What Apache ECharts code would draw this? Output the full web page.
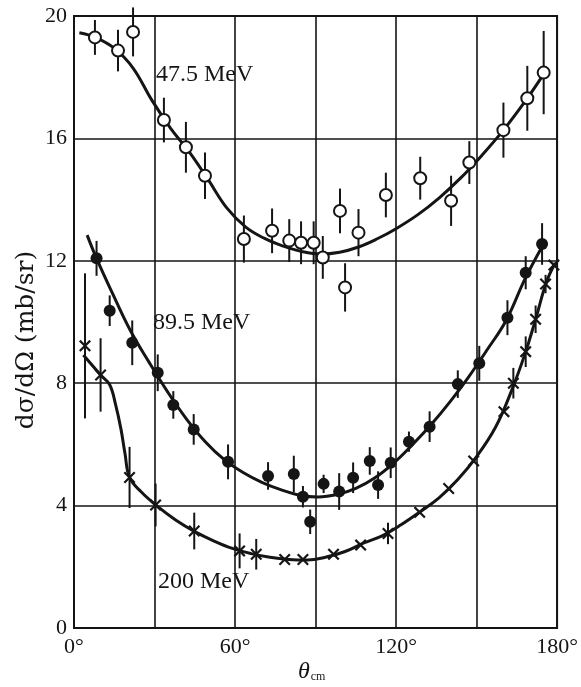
<!DOCTYPE html>
<html>
<head>
<meta charset="utf-8">
<script src="https://cdn.jsdelivr.net/npm/echarts@6/dist/echarts.min.js"></script>
<style>html,body{margin:0;padding:0;background:#fff;}#c{width:581px;height:687px;}</style>
</head>
<body>
<div id="c"></div>
<script>
// ---- data: 47.5 MeV (open circles)
const ang47 = [7.8, 16.4, 22, 33.5, 41.7, 48.8, 63.3, 73.8, 80.2, 84.6, 89.3, 92.7, 99.1, 101, 106, 116.2, 129, 140.5, 147.3, 160, 168.9, 175];
const val47 = [19.3, 18.87, 19.48, 16.6, 15.71, 14.78, 12.71, 12.98, 12.66, 12.59, 12.59, 12.11, 13.63, 11.13, 12.92, 14.15, 14.7, 13.96, 15.21, 16.27, 17.31, 18.15];
const err47 = [0.57, 0.68, 0.8, 0.73, 0.83, 0.76, 0.77, 0.73, 0.7, 0.7, 0.7, 0.7, 0.73, 0.79, 0.77, 0.73, 0.7, 0.82, 0.7, 0.9, 1.06, 1.36];
// ---- data: 89.5 MeV (filled circles)
const ang89 = [8.4, 13.3, 21.7, 31.2, 37, 44.6, 57.4, 72.3, 81.9, 85.3, 88, 93, 98.8, 104, 110.2, 113.3, 118, 124.8, 132.5, 143, 151, 161.5, 168.3, 174.4];
const val89 = [12.08, 10.37, 9.32, 8.34, 7.29, 6.49, 5.43, 4.97, 5.03, 4.29, 3.47, 4.71, 4.46, 4.91, 5.46, 4.67, 5.4, 6.09, 6.58, 7.97, 8.65, 10.14, 11.61, 12.55];
const err89 = [0.57, 0.5, 0.73, 0.6, 0.45, 0.5, 0.57, 0.45, 0.6, 0.35, 0.4, 0.3, 0.6, 0.5, 0.45, 0.45, 0.5, 0.33, 0.5, 0.45, 0.57, 0.57, 0.54, 0.68];
// ---- data: 200 MeV (crosses)
const ang200 = [4.1, 9.9, 20.7, 30.4, 44.8, 61.7, 67.9, 78.5, 85.3, 96.7, 106.8, 117, 128.8, 139.6, 148.9, 160.2, 163.7, 168.3, 172, 175.7, 178.8];
const val200 = [9.22, 8.27, 4.92, 4.02, 3.17, 2.52, 2.41, 2.24, 2.24, 2.41, 2.71, 3.09, 3.78, 4.56, 5.46, 7.07, 8.0, 9.03, 10.09, 11.24, 11.86];
const err200 = [2.37, 1.2, 1.0, 0.7, 0.6, 0.57, 0.5, 0, 0, 0, 0, 0.35, 0, 0, 0, 0, 0.5, 0.5, 0.45, 0.3, 0];
// ---- fitted curves
const fitAng47 = [2, 8, 15, 22, 29, 36, 43, 50, 57, 64, 71, 78, 85, 92, 99, 106, 113, 120, 128, 136, 144, 152, 160, 168, 175];
const fitVal47 = [19.45, 19.3, 18.95, 18.3, 17.25, 16.33, 15.55, 14.65, 13.72, 13.1, 12.73, 12.48, 12.3, 12.22, 12.28, 12.45, 12.72, 13.05, 13.5, 14.05, 14.7, 15.45, 16.27, 17.2, 18.1];
const fitAng89 = [4.9, 8.4, 14, 21, 28, 35, 42, 49, 56, 63, 70, 77, 84, 91, 98, 105, 112, 119, 126, 133, 140, 147, 154, 161, 168, 174.4];
const fitVal89 = [12.84, 12.08, 11.0, 9.72, 8.68, 7.7, 6.82, 6.08, 5.5, 5.08, 4.76, 4.52, 4.34, 4.28, 4.36, 4.56, 4.9, 5.38, 5.98, 6.64, 7.38, 8.2, 9.1, 10.05, 11.4, 12.46];
const fitAng200 = [3.5, 9.9, 13.3, 15.5, 17.5, 19, 20.7, 25, 31, 38, 45, 52, 59, 66, 73, 80, 87, 94, 101, 108, 115, 122, 129, 136, 143, 150, 157, 163, 168, 172, 176, 179.3];
const fitVal200 = [8.92, 8.27, 7.95, 7.3, 6.5, 5.7, 4.92, 4.45, 3.98, 3.52, 3.15, 2.85, 2.6, 2.43, 2.31, 2.24, 2.22, 2.32, 2.5, 2.78, 3.02, 3.38, 3.8, 4.25, 4.85, 5.6, 6.55, 7.75, 8.95, 10.09, 11.3, 11.93];
// ---- axes
const xTicks = [0, 60, 120, 180];
const yTicks = [0, 4, 8, 12, 16, 20];
const seriesLabels = ['47.5 MeV', '89.5 MeV', '200 MeV'];
const yTitle = 'dσ/dΩ (mb/sr)';

const zip = (a, b) => a.map((v, i) => [v, b[i]]);
const errData = (a, v, e) => a.map((x, i) => [x, v[i] - e[i], v[i] + e[i]]);
const SERIF = '"Liberation Serif", "DejaVu Serif", serif';
const INK = '#151515';
const crossPath = 'path://M0,1.3L1.3,0L10,8.7L8.7,10Z M8.7,0L10,1.3L1.3,10L0,8.7Z';

function fitSeries(a, v) {
  return { type: 'line', data: zip(a, v), smooth: 0.4, showSymbol: false, symbol: 'none',
    lineStyle: { color: INK, width: 3 }, z: 2, silent: true };
}
function errSeries(a, v, e) {
  return { type: 'custom', data: errData(a, v, e), clip: false, z: 3, silent: true,
    renderItem: function (params, api) {
      const p1 = api.coord([api.value(0), api.value(1)]);
      const p2 = api.coord([api.value(0), api.value(2)]);
      return { type: 'line', shape: { x1: p1[0], y1: p1[1], x2: p2[0], y2: p2[1] },
        style: { stroke: INK, lineWidth: 2 } };
    } };
}

const chart = echarts.init(document.getElementById('c'), null, { renderer: 'canvas' });
chart.setOption({
  animation: false,
  backgroundColor: '#fff',
  grid: { left: 74, right: 21, top: 16, bottom: 59, show: true, borderColor: INK, borderWidth: 2, backgroundColor: 'transparent' },
  xAxis: {
    type: 'value', min: 0, max: 180, interval: 30,
    axisLine: { show: false }, axisTick: { show: false },
    splitLine: { show: true, lineStyle: { color: INK, width: 1.6 } },
    axisLabel: { color: INK, fontFamily: SERIF, fontSize: 22, margin: 8,
      formatter: v => xTicks.indexOf(v) >= 0 ? v + '°' : '' }
  },
  yAxis: {
    type: 'value', min: 0, max: 20, interval: 4,
    axisLine: { show: false }, axisTick: { show: false },
    splitLine: { show: true, lineStyle: { color: INK, width: 1.6 } },
    axisLabel: { color: INK, fontFamily: SERIF, fontSize: 22, margin: 7,
      formatter: v => yTicks.indexOf(v) >= 0 ? String(v) : '' }
  },
  graphic: [
    { type: 'text', x: 26, y: 340, rotation: Math.PI / 2,
      style: { text: yTitle, font: '25px "DejaVu Serif", serif', fill: INK, align: 'center', verticalAlign: 'middle' } },
    { type: 'text', left: 156, top: 63, style: { text: seriesLabels[0], font: '24px ' + SERIF, fill: INK } },
    { type: 'text', left: 153, top: 311, style: { text: seriesLabels[1], font: '24px ' + SERIF, fill: INK } },
    { type: 'text', left: 158, top: 570, style: { text: seriesLabels[2], font: '24px ' + SERIF, fill: INK } },
    { type: 'text', left: 298, top: 660, style: { text: '{t|θ}{s|cm}', fill: INK,
        rich: { t: { fontFamily: SERIF, fontStyle: 'italic', fontSize: 24, fill: INK },
                s: { fontFamily: SERIF, fontSize: 12, fill: INK, padding: [10, 0, 0, 1] } } } }
  ],
  series: [
    fitSeries(fitAng47, fitVal47),
    fitSeries(fitAng89, fitVal89),
    fitSeries(fitAng200, fitVal200),
    errSeries(ang47, val47, err47),
    errSeries(ang89, val89, err89),
    errSeries(ang200, val200, err200),
    { type: 'scatter', data: zip(ang47, val47), symbol: 'circle', symbolSize: 12, z: 4,
      itemStyle: { color: '#fff', borderColor: INK, borderWidth: 2, opacity: 1 } },
    { type: 'scatter', data: zip(ang89, val89), symbol: 'circle', symbolSize: 12, z: 4,
      itemStyle: { color: INK, opacity: 1 } },
    { type: 'scatter', data: zip(ang200, val200), symbol: crossPath, symbolSize: 12, z: 4,
      itemStyle: { color: INK, opacity: 1 } }
  ]
});
</script>
</body>
</html>
